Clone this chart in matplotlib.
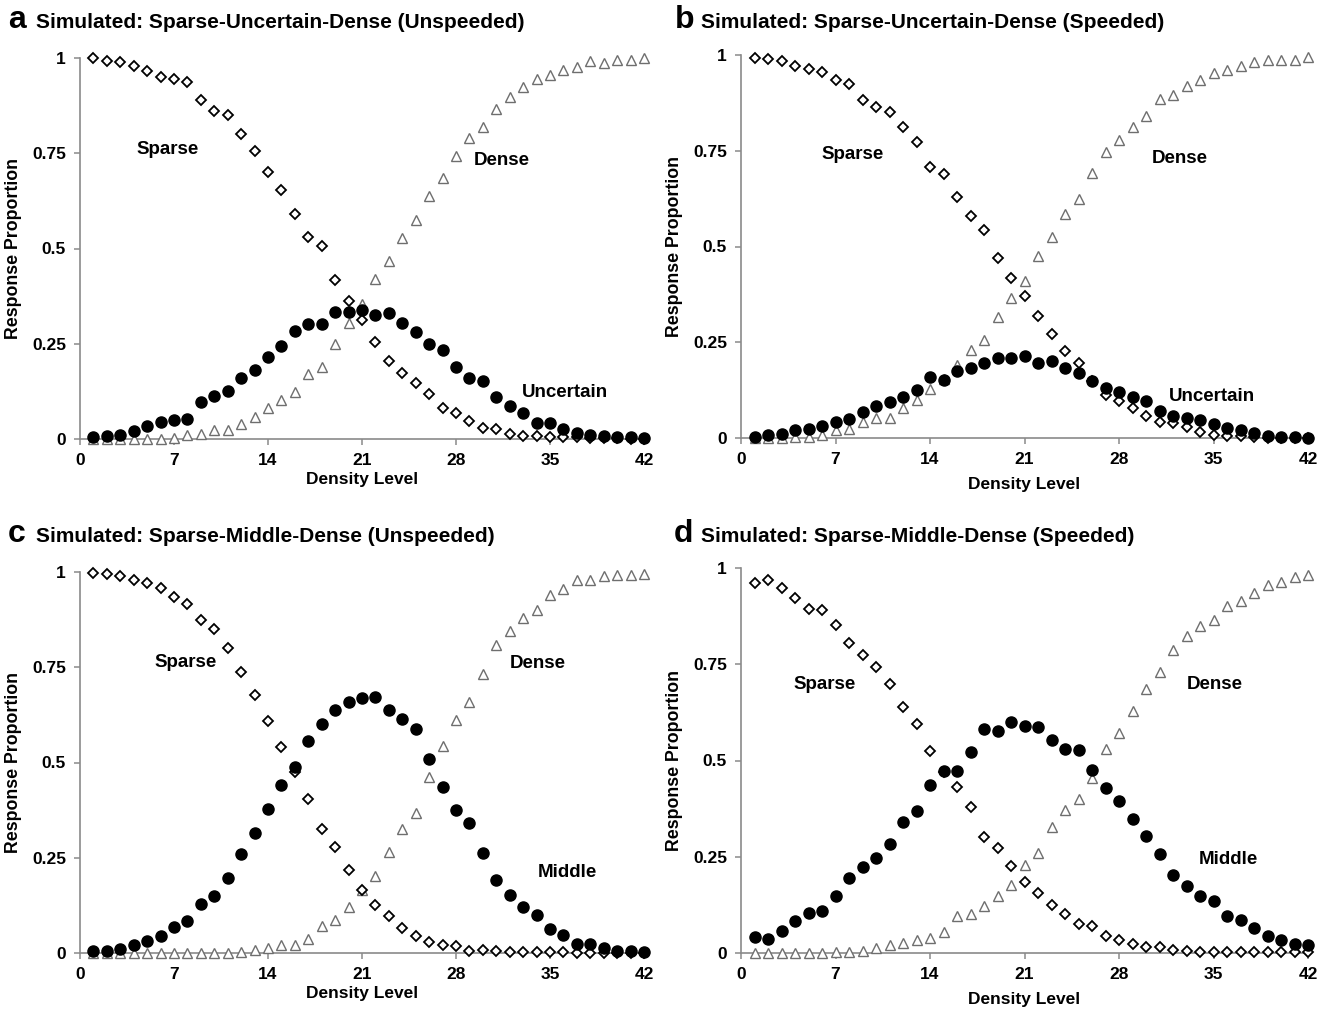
import numpy as np
import matplotlib
matplotlib.use('Agg')
import matplotlib.pyplot as plt

plt.rcParams['font.family'] = ['Liberation Sans', 'DejaVu Sans']
plt.rcParams['font.weight'] = 'bold'

levels = np.arange(1, 43)
xticks = [0, 7, 14, 21, 28, 35, 42]
yticks = [0, 0.25, 0.5, 0.75, 1]
ytick_labels = ['0', '0.25', '0.5', '0.75', '1']

# panel a: Sparse-Uncertain-Dense (Unspeeded)
a_sparse = [0.999, 0.993, 0.99, 0.979, 0.965, 0.951, 0.946, 0.938, 0.89, 0.862, 0.85, 0.80, 0.757, 0.70,
            0.654, 0.59, 0.529, 0.507, 0.417, 0.363, 0.312, 0.255, 0.206, 0.172, 0.146, 0.117, 0.081, 0.067,
            0.047, 0.030, 0.027, 0.012, 0.008, 0.008, 0.004, 0.005, 0.004, 0.003, 0.002, 0.002, 0.001, 0.001]
a_uncertain = [0.004, 0.008, 0.01, 0.022, 0.035, 0.045, 0.05, 0.052, 0.096, 0.113, 0.127, 0.159, 0.181, 0.216,
               0.244, 0.284, 0.301, 0.303, 0.333, 0.334, 0.339, 0.325, 0.332, 0.304, 0.28, 0.249, 0.234, 0.188,
               0.161, 0.153, 0.109, 0.087, 0.069, 0.043, 0.041, 0.027, 0.017, 0.01, 0.008, 0.006, 0.004, 0.003]
a_dense = [0, 0, 0, 0.001, 0, 0, 0.003, 0.01, 0.012, 0.024, 0.024, 0.039, 0.059, 0.082,
           0.102, 0.124, 0.17, 0.19, 0.249, 0.304, 0.354, 0.42, 0.466, 0.527, 0.574, 0.637, 0.684, 0.743,
           0.789, 0.818, 0.865, 0.898, 0.925, 0.946, 0.956, 0.969, 0.977, 0.991, 0.988, 0.995, 0.995, 0.999]

# panel b: Sparse-Uncertain-Dense (Speeded)
b_sparse = [0.992, 0.99, 0.985, 0.972, 0.964, 0.955, 0.934, 0.924, 0.883, 0.863, 0.85, 0.811, 0.772, 0.708,
            0.69, 0.629, 0.58, 0.542, 0.47, 0.419, 0.372, 0.319, 0.272, 0.226, 0.197, 0.15, 0.113, 0.096,
            0.078, 0.058, 0.043, 0.039, 0.028, 0.015, 0.009, 0.006, 0.004, 0.002, 0.001, 0.001, 0.001, 0.001]
b_uncertain = [0.002, 0.007, 0.011, 0.02, 0.024, 0.032, 0.041, 0.05, 0.069, 0.083, 0.094, 0.107, 0.126, 0.158,
               0.152, 0.176, 0.183, 0.196, 0.209, 0.209, 0.215, 0.197, 0.2, 0.183, 0.17, 0.15, 0.131, 0.119,
               0.107, 0.097, 0.07, 0.058, 0.052, 0.047, 0.036, 0.026, 0.022, 0.013, 0.004, 0.003, 0.003, 0.001]
b_dense = [0, 0, 0, 0.002, 0.002, 0.008, 0.021, 0.023, 0.041, 0.052, 0.052, 0.078, 0.098, 0.128,
           0.155, 0.191, 0.229, 0.257, 0.315, 0.366, 0.409, 0.476, 0.524, 0.586, 0.625, 0.693, 0.748, 0.779,
           0.812, 0.842, 0.885, 0.896, 0.918, 0.936, 0.953, 0.96, 0.97, 0.981, 0.986, 0.986, 0.988, 0.995]

# panel c: Sparse-Middle-Dense (Unspeeded)
c_sparse = [0.997, 0.996, 0.989, 0.98, 0.972, 0.959, 0.934, 0.917, 0.873, 0.85, 0.80, 0.738, 0.676, 0.609,
            0.541, 0.475, 0.403, 0.325, 0.277, 0.217, 0.165, 0.127, 0.096, 0.066, 0.044, 0.029, 0.022, 0.018,
            0.004, 0.009, 0.004, 0.003, 0.003, 0.002, 0.002, 0.002, 0.001, 0.001, 0.001, 0.001, 0.001, 0.001]
c_middle = [0.004, 0.004, 0.011, 0.022, 0.031, 0.045, 0.067, 0.084, 0.128, 0.15, 0.198, 0.259, 0.316, 0.377,
            0.44, 0.488, 0.556, 0.60, 0.639, 0.659, 0.669, 0.672, 0.637, 0.613, 0.587, 0.508, 0.437, 0.376,
            0.34, 0.262, 0.191, 0.153, 0.121, 0.101, 0.062, 0.048, 0.023, 0.023, 0.012, 0.004, 0.004, 0.003]
c_dense = [0, 0, 0, 0, 0, 0, 0.001, 0, 0, 0, 0, 0.003, 0.007, 0.013,
           0.022, 0.022, 0.038, 0.07, 0.086, 0.121, 0.165, 0.201, 0.265, 0.325, 0.368, 0.462, 0.543, 0.611,
           0.659, 0.731, 0.808, 0.844, 0.879, 0.899, 0.939, 0.956, 0.98, 0.98, 0.989, 0.993, 0.993, 0.996]

# panel d: Sparse-Middle-Dense (Speeded)
d_sparse = [0.962, 0.968, 0.947, 0.922, 0.893, 0.89, 0.853, 0.804, 0.774, 0.743, 0.698, 0.638, 0.596, 0.525,
            0.47, 0.432, 0.378, 0.301, 0.274, 0.225, 0.184, 0.157, 0.125, 0.101, 0.075, 0.071, 0.045, 0.034,
            0.023, 0.015, 0.015, 0.009, 0.004, 0.003, 0.003, 0.003, 0.003, 0.002, 0.002, 0.002, 0.003, 0.003]
d_middle = [0.041, 0.036, 0.056, 0.082, 0.105, 0.11, 0.147, 0.196, 0.223, 0.248, 0.283, 0.339, 0.37, 0.436,
            0.473, 0.473, 0.521, 0.582, 0.577, 0.60, 0.589, 0.586, 0.553, 0.53, 0.527, 0.475, 0.428, 0.395,
            0.348, 0.304, 0.258, 0.203, 0.173, 0.147, 0.134, 0.097, 0.085, 0.066, 0.045, 0.034, 0.024, 0.022]
d_dense = [0, 0, 0, 0, 0, 0, 0.002, 0.002, 0.004, 0.013, 0.02, 0.026, 0.034, 0.04,
           0.054, 0.097, 0.102, 0.121, 0.149, 0.177, 0.229, 0.261, 0.326, 0.372, 0.40, 0.455, 0.529, 0.572,
           0.629, 0.685, 0.73, 0.788, 0.824, 0.85, 0.864, 0.901, 0.914, 0.934, 0.957, 0.964, 0.977, 0.981]

W, H = 1336, 1015
fig = plt.figure(figsize=(W / 100, H / 100), dpi=100)

def px_axes(x0, x1, y_top, y_bot):
    return fig.add_axes([x0 / W, 1 - y_bot / H, (x1 - x0) / W, (y_bot - y_top) / H])

panels = [
    # letter, title, axes px box, title pos + text offset, series, mid name, label positions, xlabel pad
    ('a', 'Simulated: Sparse-Uncertain-Dense (Unspeeded)', (80, 644, 58, 439), (8, 28, 36),
     a_sparse, a_uncertain, a_dense, 'Uncertain', [(6.5, 0.759), (31.4, 0.732), (36.1, 0.123)], 3),
    ('b', 'Simulated: Sparse-Uncertain-Dense (Speeded)', (741, 1308, 55, 438), (675, 28, 701),
     b_sparse, b_uncertain, b_dense, 'Uncertain', [(8.3, 0.739), (32.5, 0.731), (34.9, 0.108)], 7),
    ('c', 'Simulated: Sparse-Middle-Dense (Unspeeded)', (80, 644, 572, 953), (8, 542, 36),
     c_sparse, c_middle, c_dense, 'Middle', [(7.9, 0.763), (34.1, 0.760), (36.3, 0.212)], 3),
    ('d', 'Simulated: Sparse-Middle-Dense (Speeded)', (741, 1308, 568, 953), (674, 542, 701),
     d_sparse, d_middle, d_dense, 'Middle', [(6.2, 0.698), (35.1, 0.698), (36.1, 0.242)], 7),
]

grey = '#8a8a8a'
for letter, title, box, tpos, sparse, mid, dense, mid_name, lab, xpad in panels:
    ax = px_axes(*box)
    ax.plot(levels, dense, linestyle='none', marker='^', markersize=7.8, markerfacecolor='white',
            markeredgecolor='#6e6e6e', markeredgewidth=1.0, clip_on=False, zorder=3)
    ax.plot(levels, sparse, linestyle='none', marker='D', markersize=5.2, markerfacecolor='white',
            markeredgecolor='black', markeredgewidth=1.3, clip_on=False, zorder=4)
    ax.plot(levels, mid, linestyle='none', marker='o', markersize=8, markerfacecolor='black',
            markeredgecolor='black', clip_on=False, zorder=5)
    ax.set_xlim(0, 42)
    ax.set_ylim(0, 1)
    ax.set_xticks(xticks)
    ax.set_yticks(yticks)
    ax.set_yticklabels(ytick_labels)
    for s in ['top', 'right']:
        ax.spines[s].set_visible(False)
    for s in ['left', 'bottom']:
        ax.spines[s].set_color(grey)
        ax.spines[s].set_linewidth(1.2)
    ax.tick_params(direction='out', length=4, width=1.1, color=grey, labelsize=12.5, pad=6)
    for t in ax.get_xticklabels() + ax.get_yticklabels():
        t.set_fontweight('bold')
    ax.set_xlabel('Density Level', fontsize=12.5, fontweight='bold', labelpad=xpad)
    ax.set_ylabel('Response Proportion', fontsize=12.8, fontweight='bold', labelpad=7)
    for (lx, ly), name in zip(lab, ['Sparse', 'Dense', mid_name]):
        ax.text(lx, ly, name, fontsize=13.5, fontweight='bold', ha='center', va='center')
    fig.text(tpos[0] / W, 1 - tpos[1] / H, letter, fontsize=23, fontweight='bold', ha='left', va='baseline')
    fig.text(tpos[2] / W, 1 - tpos[1] / H, title, fontsize=15, fontweight='bold',
             ha='left', va='baseline')

fig.savefig('out.png', dpi=100, facecolor='white')
